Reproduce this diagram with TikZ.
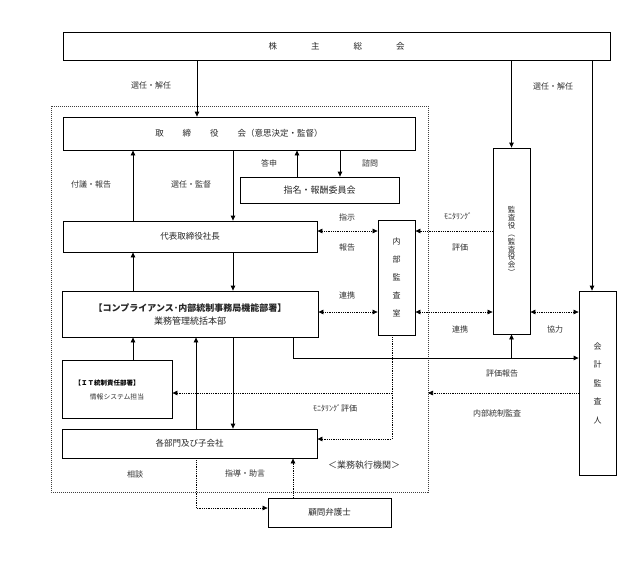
\documentclass[tikz,border=0pt]{standalone}
\usepackage{fontspec}
\setmainfont{Noto Sans CJK JP}
\usetikzlibrary{arrows.meta}
\begin{document}
\begin{tikzpicture}[x=1pt,y=-1pt,
  box/.style={draw, line width=0.8pt, rectangle, inner sep=0pt, font=\fontsize{8.5}{11}\selectfont, text=black!85},
  vbox/.style={box, align=center, font=\fontsize{8}{18}\selectfont},
  lbl/.style={font=\fontsize{8}{10}\selectfont, text=black!80, inner sep=0pt},
  tip/.style={-{Triangle[length=5pt,width=4.5pt]}},
  arr/.style={line width=0.8pt, tip},
  darr/.style={line width=0.7pt, dash pattern=on 1pt off 0.8pt, tip},
  ddarr/.style={darr, {Triangle[length=5pt,width=4.5pt]}-{Triangle[length=5pt,width=4.5pt]}},
  outer/.style={line width=0.8pt, black!75, dash pattern=on 1.2pt off 0.8pt}
]
\useasboundingbox (0,0) rectangle (637,560);
\fill[white] (0,0) rectangle (637,560);

% outer dashed frame
\draw[outer] (51,106) rectangle (428,492);

% boxes
\node[box, minimum width=547pt, minimum height=28pt] (soukai) at (336.5,46) {株\hspace{34pt}主\hspace{34pt}総\hspace{34pt}会};
\node[box, minimum width=352pt, minimum height=33pt] (tori) at (239,133.5) {取\hspace{19pt}締\hspace{19pt}役\hspace{19pt}会（意思決定・監督）};
\node[box, minimum width=159pt, minimum height=26pt, font=\fontsize{9}{11}\selectfont] (shimei) at (319.5,190) {指名・報酬委員会};
\node[box, minimum width=254pt, minimum height=31pt] (daihyo) at (190,236.5) {代表取締役社長};
\node[vbox, minimum width=37pt, minimum height=115pt] (naibu) at (396.5,277.5) {内\\部\\監\\査\\室};
\node[box, minimum width=37pt, minimum height=186pt, align=center, font=\fontsize{7.5}{7.9}\selectfont] (kansa) at (511.5,241) {監\\査\\役\\︵\\監\\査\\役\\会\\︶};
\node[box, minimum width=256pt, minimum height=46pt, align=center, font=\fontsize{9}{13}\selectfont] (compl) at (190,314) {\textbf{【コンプライアンス･内部統制事務局機能部署】}\\業務管理統括本部};
\node[box, minimum width=110pt, minimum height=58pt] (it) at (117,389) {};
\node[lbl, font=\fontsize{6.5}{8}\selectfont, text=black] (itA) at (107,383) {\textbf{【ＩＴ統制責任部署】}};
\node[lbl, font=\fontsize{6.8}{8}\selectfont] (itB) at (117,397) {情報システム担当};
\node[box, minimum width=255pt, minimum height=29pt] (kakubu) at (189.5,443.5) {各部門及び子会社};
\node[box, minimum width=123pt, minimum height=29pt] (komon) at (329.5,512.5) {顧問弁護士};
\node[vbox, minimum width=37pt, minimum height=184pt, font=\fontsize{8}{18.5}\selectfont] (kaikei) at (597.5,383) {会\\計\\監\\査\\人};

% solid connectors
\draw[arr] (soukai.south -| 197,0) -- (tori.north -| 197,0);
\draw[arr] (soukai.south -| 511.5,0) -- (kansa.north);
\draw[arr] (soukai.south -| 592,0) -- (kaikei.north -| 592,0);
\draw[arr] (shimei.north -| 297,0) -- (tori.south -| 297,0);
\draw[arr] (tori.south -| 340,0) -- (shimei.north -| 340,0);
\draw[arr] (daihyo.north -| 133,0) -- (tori.south -| 133,0);
\draw[arr] (tori.south -| 233,0) -- (daihyo.north -| 233,0);
\draw[arr] (compl.north -| 133,0) -- (daihyo.south -| 133,0);
\draw[arr] (daihyo.south -| 233,0) -- (compl.north -| 233,0);
\draw[arr] (compl.south -| 293,0) |- (kaikei.west |- 0,358);
\coordinate (j1) at (511.5,358);
\draw[arr] (j1) -- (kansa.south);
\draw[arr] (it.north -| 133,0) -- (compl.south -| 133,0);
\draw[arr] (kakubu.north -| 196,0) -- (compl.south -| 196,0);
\draw[arr] (compl.south -| 233,0) -- (kakubu.north -| 233,0);

% dashed connectors
\draw[ddarr] (daihyo.east |- 0,231) -- (naibu.west |- 0,231);
\draw[darr] (kansa.west |- 0,231) -- (naibu.east |- 0,231);
\draw[ddarr] (compl.east |- 0,312) -- (naibu.west |- 0,312);
\draw[ddarr] (naibu.east |- 0,312) -- (kansa.west |- 0,312);
\draw[ddarr] (kansa.east |- 0,312) -- (kaikei.west |- 0,312);
\draw[darr] (naibu.south -| 392,0) |- (kakubu.east |- 0,439);
\coordinate (j2) at (392,393);
\draw[darr] (j2) -- (it.east |- 0,393);
\coordinate (j3) at (428,393);
\draw[darr] (kaikei.west |- 0,393) -- (j3);
\draw[darr] (kakubu.south -| 196,0) |- (komon.west |- 0,508);
\draw[darr] (komon.north -| 293,0) -- (kakubu.south -| 293,0);

% labels
\node[lbl] (l1) at (151,85) {選任・解任};
\node[lbl] (l2) at (553,86) {選任・解任};
\node[lbl] (l3) at (269,163) {答申};
\node[lbl] (l4) at (370,163) {諮問};
\node[lbl] (l5) at (91,184) {付議・報告};
\node[lbl] (l6) at (191,184) {選任・監督};
\node[lbl] (l7) at (347,217) {指示};
\node[lbl] (l8) at (347,247) {報告};
\node[lbl] (l9) at (458,216) {ﾓﾆﾀﾘﾝｸﾞ};
\node[lbl] (l10) at (460,247) {評価};
\node[lbl] (l11) at (347,295) {連携};
\node[lbl] (l12) at (460,329) {連携};
\node[lbl] (l13) at (555,329) {協力};
\node[lbl] (l14) at (502,373) {評価報告};
\node[lbl] (l15) at (497,413) {内部統制監査};
\node[lbl] (l16) at (335,408) {ﾓﾆﾀﾘﾝｸﾞ評価};
\node[lbl] (l17) at (135,474) {相談};
\node[lbl] (l18) at (245,473) {指導・助言};
\node[lbl, font=\fontsize{9}{10}\selectfont] (l19) at (364,465) {＜業務執行機関＞};
\end{tikzpicture}
\end{document}
